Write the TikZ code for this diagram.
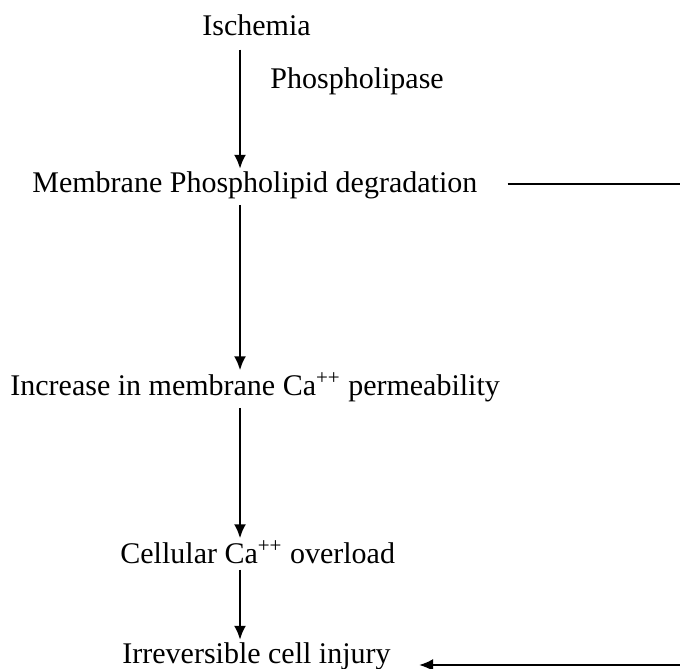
\documentclass[tikz,border=0pt]{standalone}
\usepackage{fontspec}
\setmainfont{Liberation Serif}
\usetikzlibrary{arrows.meta}
\begin{document}
\begin{tikzpicture}[x=0.5pt,y=-0.5pt,
  lbl/.style={inner sep=0pt,anchor=base west,font=\fontsize{15}{18}\selectfont},
  conn/.style={line width=1.1pt,-{Latex[length=7pt,width=6pt]}},
  plain/.style={line width=1.1pt}]
\useasboundingbox (0,0) rectangle (680,669);
\coordinate (ax) at (240,0);
\coordinate (r1) at (680,184);
\coordinate (r2) at (680,665);
\node[lbl] (isch) at (202,35) {Ischemia};
\node[lbl] (plase) at (270,88) {Phospholipase};
\node[lbl] (mem) at (32,192) {Membrane Phospholipid degradation};
\node[lbl] (inc) at (10,395) {Increase in membrane Ca\textsuperscript{++} permeability};
\node[lbl] (cell) at (120,563) {Cellular Ca\textsuperscript{++} overload};
\node[lbl] (irr) at (122,663) {Irreversible cell injury};
\draw[conn,shorten <=7pt,shorten >=1pt] (isch.south -| ax) -- (mem.north -| ax);
\draw[conn,shorten <=3pt,shorten >=1pt] (mem.south -| ax) -- (inc.north -| ax);
\draw[conn,shorten <=3pt,shorten >=1pt] (inc.south -| ax) -- (cell.north -| ax);
\draw[conn,shorten <=3pt,shorten >=1pt] (cell.south -| ax) -- (irr.north -| ax);
\draw[plain] ([xshift=15pt]mem.east |- r1) -- (r1);
\draw[conn] (r2) -- ([xshift=14pt]irr.east |- r2);
\end{tikzpicture}
\end{document}
